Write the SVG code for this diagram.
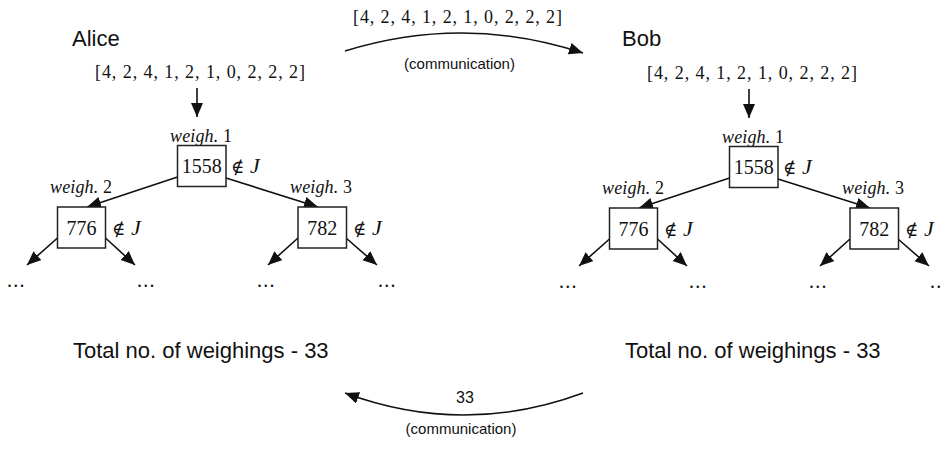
<svg xmlns="http://www.w3.org/2000/svg" width="942" height="451" viewBox="0 0 942 451">
  <style>
    .sans { font-family: "Liberation Sans", Arial, sans-serif; fill: #111; }
    .ser { font-family: "Liberation Serif", "DejaVu Serif", serif; fill: #111; }
    .sym { font-family: "DejaVu Serif", "Liberation Serif", serif; fill: #111; }
    .title { font-size: 22px; }
    .comm { font-size: 15px; }
    .list { font-size: 18px; }
    .num { font-size: 20px; text-anchor: middle; }
    .wlab { font-size: 18px; }
    .dots { font-size: 20px; letter-spacing: 1.2px; }
    .box { fill: #fff; stroke: #222; stroke-width: 1.5; }
    .edge { fill: none; stroke: #111; stroke-width: 1.6; marker-end: url(#head); }
  </style>
  <defs>
    <marker id="head" markerUnits="userSpaceOnUse" markerWidth="15" markerHeight="13" refX="14" refY="6" orient="auto">
      <path d="M0,0 L14,6 L0,12 z" fill="#111"/>
    </marker>

    <!-- one player's decision tree; drawn twice -->
    <g id="tree">
      <text class="ser list" x="95" y="78" textLength="210" lengthAdjust="spacing">[4, 2, 4, 1, 2, 1, 0, 2, 2, 2]</text>
      <g class="connectors">
        <line class="edge" x1="197" y1="88" x2="197" y2="117"/>
        <line class="edge" x1="177.5" y1="177" x2="87" y2="207"/>
        <line class="edge" x1="226" y1="178" x2="318" y2="207"/>
        <line class="edge" x1="57.5" y1="238" x2="27" y2="265"/>
        <line class="edge" x1="105.5" y1="238" x2="135" y2="265"/>
        <line class="edge" x1="298" y1="238" x2="268" y2="265"/>
        <line class="edge" x1="346" y1="238" x2="377" y2="265"/>
      </g>
      <g class="node-w1">
        <text class="ser wlab" x="170" y="142" textLength="62" lengthAdjust="spacing"><tspan font-style="italic">weigh.</tspan> 1</text>
        <rect class="box" x="177.5" y="145.5" width="48.5" height="41"/>
        <text class="ser num" x="201.7" y="173">1558</text>
        <text class="sym" x="231" y="173" font-size="18">∉</text>
        <text class="ser" x="250" y="173" font-size="22" font-style="italic">J</text>
      </g>
      <g class="node-w2">
        <text class="ser wlab" x="50" y="193" textLength="62" lengthAdjust="spacing"><tspan font-style="italic">weigh.</tspan> 2</text>
        <rect class="box" x="57.5" y="207" width="48" height="41"/>
        <text class="ser num" x="81.5" y="235">776</text>
        <text class="sym" x="112" y="235" font-size="18">∉</text>
        <text class="ser" x="131" y="235" font-size="22" font-style="italic">J</text>
      </g>
      <g class="node-w3">
        <text class="ser wlab" x="290" y="193" textLength="62" lengthAdjust="spacing"><tspan font-style="italic">weigh.</tspan> 3</text>
        <rect class="box" x="298" y="207" width="48.5" height="41"/>
        <text class="ser num" x="322.3" y="235">782</text>
        <text class="sym" x="353" y="235" font-size="18">∉</text>
        <text class="ser" x="372" y="235" font-size="22" font-style="italic">J</text>
      </g>
      <g class="leaves">
        <text class="ser dots" x="7" y="287">...</text>
        <text class="ser dots" x="137" y="287">...</text>
        <text class="ser dots" x="257" y="287">...</text>
        <text class="ser dots" x="378" y="287">...</text>
      </g>
    </g>
  </defs>

  <!-- Alice -->
  <g id="alice">
    <text class="sans title" x="72" y="46">Alice</text>
    <use href="#tree"/>
    <text class="sans title" x="73" y="358">Total no. of weighings - 33</text>
  </g>

  <!-- Bob -->
  <g id="bob">
    <text class="sans title" x="622" y="46">Bob</text>
    <use href="#tree" transform="translate(552,1)"/>
    <text class="sans title" x="625" y="358">Total no. of weighings - 33</text>
  </g>

  <!-- messages exchanged between the two players -->
  <g id="connectors">
    <path class="edge" d="M345,51 Q464,14 583,53"/>
    <path class="edge" d="M583,393 Q464,437 345,393"/>
  </g>
  <g id="messages">
    <text class="ser list" x="353" y="23" textLength="209" lengthAdjust="spacing">[4, 2, 4, 1, 2, 1, 0, 2, 2, 2]</text>
    <text class="sans comm" x="459.5" y="69" text-anchor="middle">(communication)</text>
    <text class="sans" x="465" y="403" font-size="16" text-anchor="middle">33</text>
    <text class="sans comm" x="461" y="434" text-anchor="middle">(communication)</text>
  </g>
</svg>
